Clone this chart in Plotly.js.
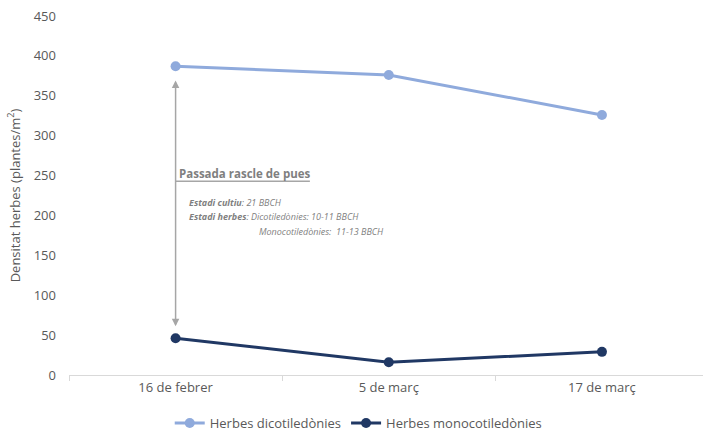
<!DOCTYPE html>
<html>
<head>
<meta charset="utf-8">
<script src="https://cdn.plot.ly/plotly-3.0.1.min.js"></script>
<style>html,body{margin:0;padding:0;background:#fff;}#chart{width:703px;height:431px;}</style>
</head>
<body>
<div id="chart"></div>
<script>
const categories = ["16 de febrer", "5 de març", "17 de març"];
const dicotValues = [387, 376, 326];
const monoValues = [46, 16, 29];
const seriesNames = ["Herbes dicotiledònies", "Herbes monocotiledònies"];
const yTicks = [0, 50, 100, 150, 200, 250, 300, 350, 400, 450];

const FONT = "Open Sans, Liberation Sans, sans-serif";
const traces = [
  {x: categories, y: dicotValues, name: seriesNames[0], type: "scatter", mode: "lines+markers",
   line: {color: "#8faadc", width: 3}, marker: {color: "#8faadc", size: 10}},
  {x: categories, y: monoValues, name: seriesNames[1], type: "scatter", mode: "lines+markers",
   line: {color: "#203864", width: 3}, marker: {color: "#203864", size: 10}}
];

const grey = "#7f7f7f";
const layout = {
  width: 703, height: 431,
  margin: {l: 69, r: 0, t: 16, b: 56, autoexpand: false},
  paper_bgcolor: "#fff", plot_bgcolor: "#fff",
  font: {family: FONT, color: "#595959", size: 13},
  showlegend: true,
  legend: {orientation: "h", x: 0.457, xanchor: "center", y: -0.134, yanchor: "middle",
           font: {size: 13, color: "#595959"}, itemwidth: 30, tracegroupgap: 0},
  xaxis: {type: "category", range: [-0.5, 2.474], showline: true, linecolor: "#d9d9d9", linewidth: 1,
          ticks: "outside", tickson: "boundaries", ticklen: 5, tickcolor: "#d9d9d9", automargin: false,
          showgrid: false, zeroline: false, tickfont: {size: 13, color: "#595959"}, fixedrange: true},
  yaxis: {range: [0, 450], tickvals: yTicks, showgrid: false, zeroline: false, showline: false,
          ticks: "", ticklabelstandoff: 12, automargin: false, tickfont: {size: 13, color: "#595959"},
          title: {text: "Densitat herbes (plantes/m<sup>2</sup>)", font: {size: 13, color: "#595959"}, standoff: 10}},
  shapes: [
    {type: "line", xref: "x", yref: "y", x0: 0, x1: 0.63, y0: 243, y1: 243,
     line: {color: "#a6a6a6", width: 1.5}}
  ],
  annotations: [
    {x: 0, y: 61, ax: 0, ay: 371, xref: "x", yref: "y", axref: "x", ayref: "y", text: "",
     showarrow: true, arrowhead: 2, startarrowhead: 2, arrowside: "end+start", arrowsize: 1,
     arrowwidth: 1.5, arrowcolor: "#a6a6a6", standoff: 0, startstandoff: 0},
    {x: 0, y: 253, xref: "x", yref: "y", xanchor: "left", yanchor: "middle", xshift: 1, showarrow: false,
     text: "<b>Passada rascle de pues</b>", font: {size: 11.5, color: grey}},
    {x: 0, y: 216, xref: "x", yref: "y", xanchor: "left", yanchor: "middle", xshift: 11, showarrow: false,
     text: "<b><i>Estadi cultiu</i></b><i>: 21 BBCH</i>", font: {size: 9, color: grey}},
    {x: 0, y: 199, xref: "x", yref: "y", xanchor: "left", yanchor: "middle", xshift: 11, showarrow: false,
     text: "<b><i>Estadi herbes</i></b><i>: Dicotiledònies: 10-11 BBCH</i>", font: {size: 9, color: grey}},
    {x: 0, y: 180, xref: "x", yref: "y", xanchor: "left", yanchor: "middle", xshift: 81, showarrow: false,
     text: "<i>Monocotiledònies:  11-13 BBCH</i>", font: {size: 9, color: grey}}
  ]
};
Plotly.newPlot("chart", traces, layout, {displayModeBar: false, staticPlot: true});
</script>
</body>
</html>
